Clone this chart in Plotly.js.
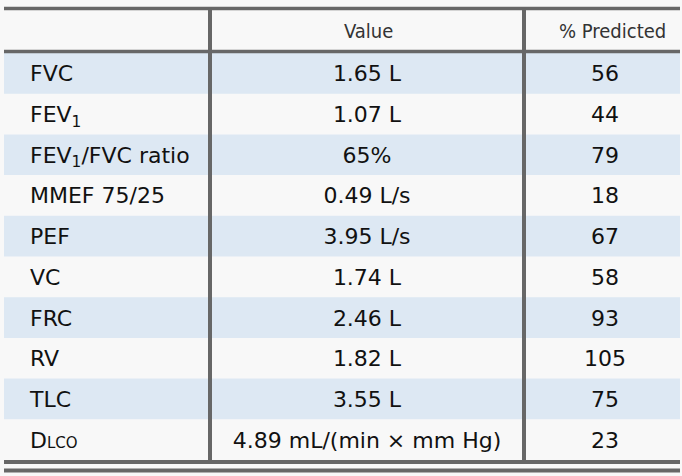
<!DOCTYPE html>
<html>
<head>
<meta charset="utf-8">
<script src="https://cdn.plot.ly/plotly-3.0.1.min.js"></script>
<style>
  html, body { margin: 0; padding: 0; background: #f8f8f8; }
  #plot { width: 682px; height: 476px; }
</style>
</head>
<body>
<div id="plot"></div>
<script>
// table content
const headers = ["", "Value", "% Predicted"];
const tests = ["FVC", "FEV<sub>1</sub>", "FEV<sub>1</sub>/FVC ratio", "MMEF 75/25", "PEF",
  "VC", "FRC", "RV", "TLC", "D<span style='font-size:15px'>LCO</span>"];
const values = ["1.65 L", "1.07 L", "65%", "0.49 L/s", "3.95 L/s",
  "1.74 L", "2.46 L", "1.82 L", "3.55 L", "4.89 mL/(min \u00d7 mm Hg)"];
const predicted = [56, 44, 79, 18, 67, 58, 93, 105, 75, 23];

document.addEventListener("DOMContentLoaded", function () {
  const plotDiv = document.getElementById("plot");

  // layout geometry (pixels across, rows down)
  const W = 682, H = 476;
  const rowTop = 53, rowH = 40.7;
  const left = 4, right = 680;
  const colEdges = [210, 524];
  const textX = [30, 367, 605];
  const textDrop = 2.5 / rowH; // text sits a little below the row middle
  const lineColor = "#676767";
  const stripe = "#dde8f3";

  const n = tests.length;
  const rows = tests.map((_, i) => i);
  const toRow = (px) => (px - rowTop) / rowH - 0.5;

  const bodyFont = { family: "DejaVu Sans, Verdana, sans-serif", size: 22, color: "#111111" };
  const headFont = { family: "DejaVu Sans Condensed, Liberation Sans Narrow, DejaVu Sans, sans-serif", size: 20, color: "#333333" };

  function column(text, x, pos) {
    return {
      x: rows.map(() => x),
      y: rows.map((i) => i + textDrop),
      text: text,
      type: "scatter",
      mode: "text",
      textposition: pos,
      textfont: bodyFont,
      hoverinfo: "skip",
    };
  }

  const plotData = [
    column(tests, textX[0], "middle right"),
    column(values, textX[1], "middle center"),
    column(predicted.map(String), textX[2], "middle center"),
  ];

  const shapes = [];
  // striped rows
  rows.forEach((i) => {
    if (i % 2 === 0) {
      shapes.push({
        type: "rect", xref: "x", yref: "y", layer: "below",
        x0: left, x1: right, y0: i - 0.5, y1: i + 0.5,
        fillcolor: stripe, line: { width: 0 },
      });
    }
  });

  const hline = (y, w) => ({
    type: "line", xref: "x", yref: "y", layer: "above",
    x0: left, x1: right, y0: y, y1: y,
    line: { color: lineColor, width: w },
  });

  const topY = toRow(8.5);
  const headY = toRow(51.5);
  const botY1 = n - 0.5 + (2 / rowH);
  const botY2 = n - 0.5 + (10.5 / rowH);

  shapes.push(hline(topY, 3.5));
  shapes.push(hline(headY, 3.5));
  shapes.push(hline(botY1, 4));
  shapes.push(hline(botY2, 4));

  colEdges.forEach((cx) => {
    shapes.push({
      type: "line", xref: "x", yref: "y", layer: "above",
      x0: cx, x1: cx, y0: topY, y1: botY1,
      line: { color: lineColor, width: 4 },
    });
  });

  const annotations = [
    { text: headers[1], x: textX[1] + 1, y: toRow(31) },
    { text: headers[2], x: textX[2] + 7, y: toRow(31) },
  ].map((a) => Object.assign({
    xref: "x", yref: "y", showarrow: false,
    xanchor: "center", yanchor: "middle", font: headFont,
  }, a));

  const layout = {
    width: W,
    height: H,
    margin: { l: 0, r: 0, t: 0, b: 0 },
    paper_bgcolor: "#f8f8f8",
    plot_bgcolor: "#f8f8f8",
    showlegend: false,
    xaxis: { range: [0, W], visible: false, fixedrange: true },
    yaxis: { range: [toRow(H), toRow(0)], visible: false, fixedrange: true },
    shapes: shapes,
    annotations: annotations,
  };

  Plotly.newPlot(plotDiv, plotData, layout, { displayModeBar: false, staticPlot: true });
});
</script>
</body>
</html>
